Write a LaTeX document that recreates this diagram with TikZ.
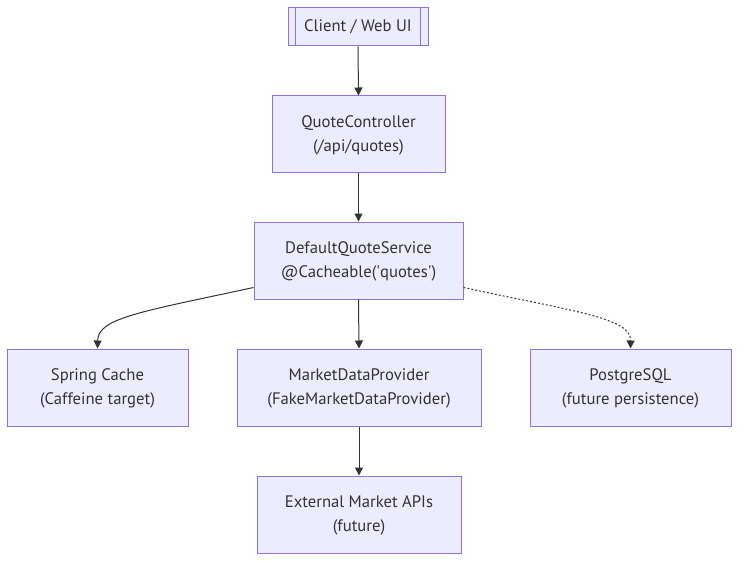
\documentclass[tikz,border=0pt]{standalone}
\usepackage{fontspec}
\setmainfont{PT Sans}
\usetikzlibrary{arrows.meta,calc}
\definecolor{boxfill}{HTML}{ECECFF}
\definecolor{boxline}{HTML}{9370DB}
\definecolor{ink}{HTML}{333333}
\newcommand{\mytwolines}[2]{\begin{tabular}{@{}c@{}}#1\\#2\end{tabular}}
\begin{document}
\begin{tikzpicture}[x=0.75pt,y=-0.75pt,
  box/.style={draw=boxline,fill=boxfill,line width=0.75pt,inner sep=0pt,
    text=ink,font=\fontsize{12.5}{18}\selectfont,align=center,minimum height=57.75pt},
  twoline/.style={draw=boxline,fill=boxfill,line width=0.75pt,inner sep=0pt,
    text=ink,font=\fontsize{12.5}{18}\selectfont,minimum height=57.75pt},
  conn/.style={draw=ink,line width=0.75pt,-{Triangle[length=6pt,width=6pt]}},
  dotconn/.style={conn,dash pattern=on 1.5pt off 1.5pt}]
\useasboundingbox (0,0) rectangle (747,567);
\node[box,minimum width=105pt,minimum height=28.5pt] (client) at (358,27) {Client / Web UI};
\draw[boxline,line width=0.75pt] ([xshift=6pt]client.north west) -- ([xshift=6pt]client.south west)
  ([xshift=-6pt]client.north east) -- ([xshift=-6pt]client.south east);
\node[twoline,minimum width=129.75pt] (ctrl) at (358.5,134.5) {\mytwolines{QuoteController}{(/api/quotes)}};
\node[twoline,minimum width=156.75pt] (svc) at (358.5,260.5) {\mytwolines{DefaultQuoteService}{@Cacheable(\textquotesingle quotes\textquotesingle)}};
\node[twoline,minimum width=135.75pt] (cache) at (97.5,387.5) {\mytwolines{Spring Cache}{(Caffeine target)}};
\node[twoline,minimum width=183pt] (mdp) at (359,387.5) {\mytwolines{MarketDataProvider}{(FakeMarketDataProvider)}};
\node[twoline,minimum width=150.75pt] (pg) at (630.5,387.5) {\mytwolines{PostgreSQL}{(future persistence)}};
\node[twoline,minimum width=153pt] (ext) at (359,514.5) {\mytwolines{External Market APIs}{(future)}};
\coordinate (sl) at ($(svc.south west)+(0,-12)$);
\coordinate (sr) at ($(svc.south east)+(0,-12)$);
\draw[conn] (client.south) -- (ctrl.north);
\draw[conn] (ctrl.south) -- (svc.north);
\draw[conn] (svc.south) -- (mdp.north);
\draw[conn] (mdp.south) -- (ext.north);
\draw[conn] (sl) .. controls (140,312) and (98,318) .. (cache.north);
\draw[dotconn] (sr) .. controls (577,312) and (631,318) .. (pg.north);
\end{tikzpicture}
\end{document}
